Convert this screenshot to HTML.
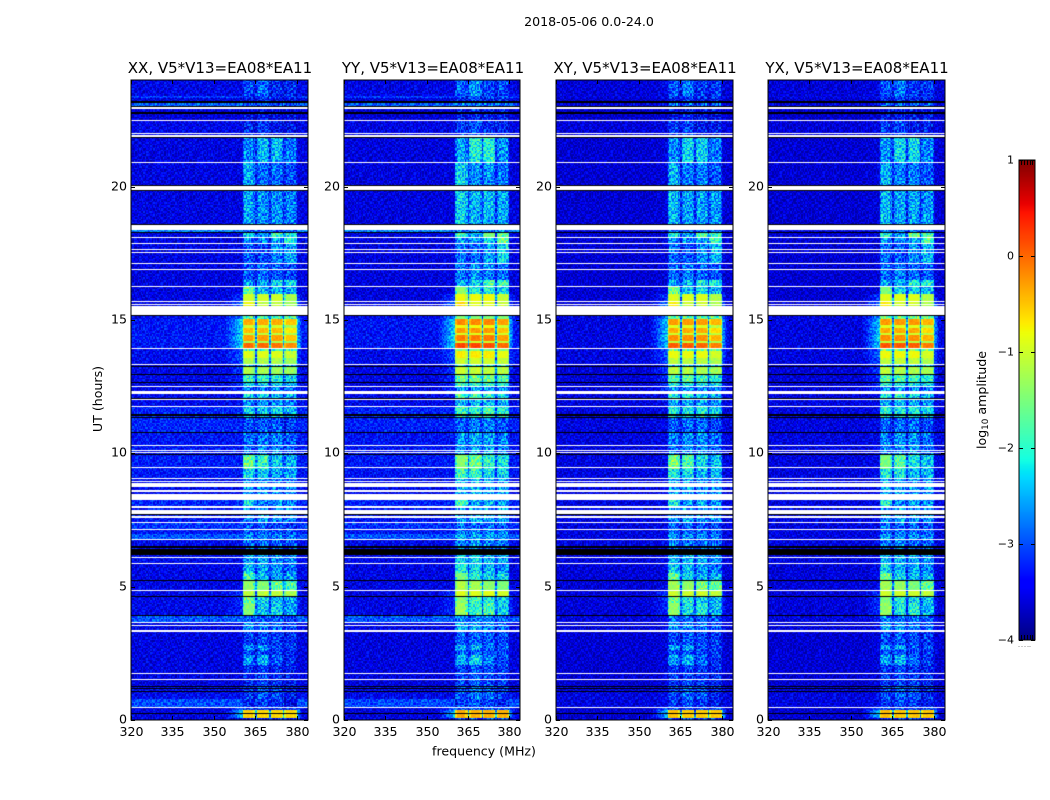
<!DOCTYPE html>
<html>
<head>
<meta charset="utf-8">
<title>2018-05-06 0.0-24.0</title>
<style>
html,body{margin:0;padding:0;background:#fff;}
#figure{position:relative;width:1050px;height:800px;overflow:hidden;background:#fff;}
canvas{position:absolute;display:block;}
svg{position:absolute;left:0;top:0;}
text{font-family:"DejaVu Sans","Liberation Sans",sans-serif;fill:#000;}
</style>
</head>
<body>
<div id="figure">
<canvas id="heat0" width="177" height="640" style="left:131px;top:80px"></canvas>
<canvas id="heat1" width="176" height="640" style="left:344px;top:80px"></canvas>
<canvas id="heat2" width="177" height="640" style="left:556px;top:80px"></canvas>
<canvas id="heat3" width="177" height="640" style="left:768px;top:80px"></canvas>
<canvas id="cbar" width="16" height="480" style="left:1019px;top:160px"></canvas>
<svg id="overlay" width="1050" height="800">
<text x="589" y="26" text-anchor="middle" font-size="12.6">2018-05-06 0.0-24.0</text>
<text x="220" y="73" text-anchor="middle" font-size="15">XX, V5*V13=EA08*EA11</text>
<text x="433" y="73" text-anchor="middle" font-size="15">YY, V5*V13=EA08*EA11</text>
<text x="645" y="73" text-anchor="middle" font-size="15">XY, V5*V13=EA08*EA11</text>
<text x="857" y="73" text-anchor="middle" font-size="15">YX, V5*V13=EA08*EA11</text>
<text x="484" y="755.5" text-anchor="middle" font-size="12.6">frequency (MHz)</text>
<text transform="translate(102,399) rotate(-90)" text-anchor="middle" font-size="12.6">UT (hours)</text>
<text transform="translate(986,400) rotate(-90)" text-anchor="middle" font-size="12.6">log<tspan font-size="8.8" dy="2">10</tspan><tspan dy="-2"> amplitude</tspan></text>
</svg>
</div>
<script>
/* axis data */
const panelNames = ['xx','yy','xy','yx'];
const xTicks = [320,335,350,365,380];
const yTicks = [0,5,10,15,20];
const colorbarTicks = [1,0,-1,-2,-3,-4];
const colorbarTickLabels = ['1','0','\u22121','\u22122','\u22123','\u22124'];
const colorbarMinorX = [0.12,0.3,0.48,0.66,0.84];

/* time segments, in slots of 2.25 minutes counted up from 0 UT (top edge of each segment) */
const segmentTops = [640,624,622,617,614,600,582,557,529,490,488,483,477,456,440,433,426,419,404,401,395,392,387,385,379,377,371,369,362,355,353,345,337,333,326,320,313,302,287,265,251,241,220,212,197,190,186,180,165,156,147,139,129,123,117,105,97,88,75,70,65,55,33,21,12,10,2];
/* log10 amplitude outside the observing band */
const offLevels = [-3.52,-3.12,-3.57,-2.92,-3.62,-3.52,-3.57,-3.57,-3.57,-2.77,-3.57,-3.57,-3.57,-3.57,-3.57,-3.57,-3.57,-3.57,-3.47,-3.37,-3.37,-3.37,-3.37,-3.37,-3.37,-3.37,-3.47,-3.47,-3.47,-3.57,-3.52,-3.52,-3.52,-3.52,-3.47,-3.47,-3.27,-3.27,-3.37,-3.32,-3.37,-3.47,-3.27,-3.37,-3.17,-3.37,-2.97,-3.47,-3.47,-3.52,-3.52,-3.52,-3.52,-3.52,-3.52,-2.97,-3.52,-3.57,-3.57,-3.57,-3.57,-3.57,-3.47,-3.02,-3.62,-3.57,-3.57];
/* log10 amplitude of the skirt beside the band */
const sideLevels = [-3.52,-3.12,-3.57,-2.92,-3.62,-3.52,-3.57,-3.57,-3.57,-2.77,-3.57,-3.57,-3.57,-3.57,-3.57,-3.57,-3.1,-2.8,-2.7,-2.2,-2.4,-2.2,-2.5,-2.1,-2.5,-2.2,-3,-2.9,-3,-3.2,-3.1,-3.2,-3.2,-3.2,-3.47,-3.47,-3.27,-3.27,-3.37,-3.32,-3.37,-3.47,-3.27,-3.37,-3.17,-3.37,-2.97,-3.47,-3.47,-3.52,-3.52,-3.52,-3.1,-3.2,-3.2,-3,-3.52,-3.57,-3.57,-3.57,-3.57,-3.57,-3.47,-3.05,-2.9,-2.4,-3.57];
/* log10 amplitude in each of the four sub-bands */
const sub1Levels = [-2.6,-2.8,-3,-2.5,-3.1,-2.8,-2.3,-2.1,-2.1,-2.5,-1.9,-2.3,-2.5,-2.5,-2.2,-1.6,-1,-0.8,-1.7,-0.35,-1,-0.45,-1.1,-0.3,-1.2,0,-1.7,-0.9,-1.2,-2,-1.2,-1.75,-1.9,-2.3,-1.9,-2.2,-1.9,-2.6,-2.4,-1.6,-1.9,-2.2,-1.9,-2.3,-2.5,-2.5,-2.2,-2.4,-2.1,-2,-1.7,-1.35,-1.1,-1.6,-1.45,-2.4,-2.2,-2.7,-2.2,-2.6,-2.2,-2.8,-2.7,-2.8,-2.7,-0.55,-2.8];
const sub2Levels = [-2.4,-2.7,-2.8,-2.5,-3,-2.7,-2,-2.4,-2.2,-2.5,-2.2,-2.3,-2.6,-2.4,-2.1,-2,-1,-1.1,-1.7,-0.35,-1,-0.45,-1.1,-0.3,-1.2,0,-1.7,-0.9,-1.2,-2,-1.25,-1.75,-1.95,-2.3,-1.9,-2.2,-1.95,-2.5,-2.3,-1.75,-1.95,-2.2,-2.3,-2.2,-2.6,-2.5,-2.3,-2.4,-2.1,-2.1,-2,-1.45,-1.1,-1.9,-1.95,-2.5,-2.3,-2.6,-2.2,-2.6,-2.1,-2.7,-2.5,-2.7,-2.7,-0.6,-2.8];
const sub3Levels = [-2.8,-2.8,-3,-2.6,-3.1,-3,-2,-2.4,-2.2,-2.5,-1.7,-2.1,-2.3,-2.5,-1.9,-2,-1,-1.1,-1.7,-0.35,-1,-0.45,-1.1,-0.3,-1.2,-0.05,-1.7,-0.9,-1.2,-2,-1.3,-1.8,-1.95,-2.3,-2,-2.2,-1.9,-2.5,-2.3,-1.95,-2.1,-2.3,-2.2,-2.3,-2.6,-2.5,-2.3,-2.5,-2.2,-2.2,-2.1,-1.6,-1.1,-2,-1.9,-2.5,-2.4,-2.7,-2.6,-2.7,-2.5,-2.8,-2.6,-2.8,-2.7,-0.6,-2.8];
const sub4Levels = [-2.8,-2.8,-3,-2.6,-3.1,-3,-2.4,-2.6,-2.3,-2.5,-1.8,-1.8,-2.1,-2.6,-1.9,-2.1,-1.25,-1.3,-1.7,-0.5,-1.2,-0.7,-1.2,-0.5,-1.3,-0.2,-1.7,-1.05,-1.3,-2,-1.35,-1.9,-2,-2.4,-2.1,-2.3,-2,-2.7,-2.5,-2.05,-2.1,-2.3,-2.3,-2.3,-2.7,-2.5,-2.4,-2.5,-2.3,-2.4,-2.1,-1.7,-1.2,-2.1,-2.1,-2.6,-2.6,-2.8,-2.7,-2.8,-2.8,-2.9,-2.9,-3,-2.7,-0.6,-2.8];

/* flagged time ranges, as [first slot, end slot) */
const whiteFlagStarts = [611,599,586,583,557,530,490,482,476,470,467,456,450,433,418,415,405,371,355,333,326,320,313,274,269,267,252,241,238,233,228,220,212,206,202,197,190,180,162,156,129,97,94,88,46,40,12];
const whiteFlagEnds   = [613,600,587,585,558,534,495,483,477,471,468,457,451,434,419,416,414,372,356,334,329,321,314,275,270,268,253,242,239,237,230,226,214,210,204,198,191,181,163,157,130,98,95,90,47,41,13];
const blackFlagStarts = [617,613,606,582,534,529,495,487,404,353,345,337,321,304,302,287,265,205,172,165,139,123,104,33,31,28,6];
const blackFlagEnds   = [619,614,608,583,535,530,496,488,405,354,346,338,322,306,303,288,266,206,174,171,140,124,105,34,32,29,7];

/* per-polarisation level adjustments */
const panelSubShift = [0,0.2,0.08,0.1];
const panelOffShift = [0.03,0,-0.08,-0.08];
const crossOffCeiling = [0,0,-3.47,-3.47];

/* sub-band edges in MHz */
const subStarts = [360.4,365.4,370.5,375.5];
const subEnds = [364.8,369.9,375,380];

/* speckle tile: per-cell deviation digits (0 low, 9 high), estimated from the noise texture */
const speckleRows = [
"4726153894061738249516037284915",
"8135042697381526074938162504739",
"2960748135926407381652940718263",
"5381926470351892604713582946017",
"0647382915740263981542607391856",
"7294051638429715360827493016584",
"3518697240185362947051836274902",
"9072435861620749153682047951368",
"1846209753938164072596318405726",
"6359814027254908637412985063147",
"4081762395713526094863701249580",
"2795360148649073815204936587412",
"8316947205182649730751248360695",
"5042738916305817462398057164923",
"9628104573476295081636914702358",
"1473926085943061527840362985176",
"7850362419608743196257189034628",
"3196548702275918364061743829560",
"6024871395041632879514095276813",
"4758209163897504216387620941375",
"0931675482516289047923158607429",
"8247093516734061592860471395286",
"2563814907180793625149306728945",
"7106429358462815093776589210634",
"3894750261937246158004132867596",
"5217368094015978346528947613082",
"9460182735682403719165230894751",
"1738596420349150867342076158923",
"6082947153724696310987415362708"
];

/* scales */
const panelLefts = [131,344,556,768];
const panelWidths = [177,176,177,177];
const plotTop = 80, plotBottom = 720;
const xMin = 320, xMax = 384, hoursMax = 24, slotCount = 640, cmin = -4, cmax = 1;
function xScale(mhz, p){ return panelWidths[p] * (mhz - xMin) / (xMax - xMin); }
function yScale(hours){ return plotBottom - (plotBottom - plotTop) * hours / hoursMax; }
function slotHours(slot){ return slot * hoursMax / slotCount; }
function cbarY(v){ return 160 + 480 * (cmax - v) / (cmax - cmin); }

function clamp01(v){ return v < 0 ? 0 : v > 1 ? 1 : v; }
function jet(v){
  const t = clamp01((v - cmin) / (cmax - cmin));
  let r, g, b;
  if (t < 0.35) r = 0; else if (t < 0.66) r = (t - 0.35) / 0.31; else if (t < 0.89) r = 1; else r = 1 - 0.5 * (t - 0.89) / 0.11;
  if (t < 0.125) g = 0; else if (t < 0.375) g = (t - 0.125) / 0.25; else if (t < 0.64) g = 1; else if (t < 0.91) g = 1 - (t - 0.64) / 0.27; else g = 0;
  if (t < 0.11) b = 0.5 + 0.5 * t / 0.11; else if (t < 0.34) b = 1; else if (t < 0.65) b = 1 - (t - 0.34) / 0.31; else b = 0;
  return 'rgb(' + Math.round(r * 255) + ',' + Math.round(g * 255) + ',' + Math.round(b * 255) + ')';
}

function segmentFor(slot){
  let idx = 0;
  for (let i = 0; i < segmentTops.length; i++) { if (segmentTops[i] > slot) idx = i; else break; }
  return idx;
}
function flagFor(slot){
  for (let i = 0; i < blackFlagStarts.length; i++) if (slot >= blackFlagStarts[i] && slot < blackFlagEnds[i]) return 'k';
  for (let i = 0; i < whiteFlagStarts.length; i++) if (slot >= whiteFlagStarts[i] && slot < whiteFlagEnds[i]) return 'w';
  return '';
}
/* weak in-band emission reads dimmer than its first colour estimate */
function toneCurve(s){
  return s < -1.6 ? s - Math.min(0.45, (-1.6 - s) * 1.2) : s;
}
function cellLevel(mhz, seg, p){
  let off = offLevels[seg], side = sideLevels[seg];
  const ceil = crossOffCeiling[p];
  if (ceil && off > ceil) { const d = off - ceil; off = ceil; side = Math.max(side - d, off); }
  off += panelOffShift[p];
  const subs = [sub1Levels[seg], sub2Levels[seg], sub3Levels[seg], sub4Levels[seg]];
  for (let i = 0; i < 4; i++) {
    if (mhz >= subStarts[i] && mhz < subEnds[i]) {
      const s = toneCurve(subs[i] + panelSubShift[p]);
      const rim = Math.min(mhz - subStarts[i], subEnds[i] - mhz);
      return rim < 0.6 ? s - 0.28 : s;
    }
    if (i < 3 && mhz >= subEnds[i] && mhz < subStarts[i + 1]) {
      const s = toneCurve(Math.max(subs[i], subs[i + 1]) + panelSubShift[p]);
      return off + 0.3 * (s - off);
    }
  }
  if (mhz < subStarts[0]) {
    if (mhz > 354 && side > off) { const r = (mhz - 354) / 6.4; return off + (side - off) * r; }
    return off;
  }
  if (mhz < 382 && side > off) return off + (side - off) * (382 - mhz) / 2.1;
  return off;
}
function speckle(rowCell, col){
  const nr = speckleRows.length, row = speckleRows[rowCell % nr];
  const shift = Math.floor(rowCell / nr) * 11;
  return row.charCodeAt((col + shift) % row.length) - 48 - 4.5;
}

/* draw each heatmap from the arrays */
const colStep = 0.5;
for (let p = 0; p < 4; p++) {
  const ctx = document.getElementById('heat' + p).getContext('2d');
  ctx.fillStyle = '#fff';
  ctx.fillRect(0, 0, panelWidths[p], 640);
  const nCols = Math.ceil((xMax - xMin) / colStep);
  for (let slot = 0; slot < slotCount; slot++) {
    const yTop = Math.round(yScale(slotHours(slot + 1))) - plotTop;
    const yBot = Math.round(yScale(slotHours(slot))) - plotTop;
    const flag = flagFor(slot);
    if (flag) {
      ctx.fillStyle = flag === 'k' ? '#000' : '#fff';
      ctx.fillRect(0, yTop, panelWidths[p], yBot - yTop);
      continue;
    }
    const seg = segmentFor(slot);
    const rowCell = Math.floor((slot + p * 21) / 1.5);
    for (let c = 0; c < nCols; c++) {
      const mhz = xMin + c * colStep;
      const x0 = Math.round(xScale(mhz, p)), x1 = Math.round(xScale(mhz + colStep, p));
      const level = cellLevel(mhz + colStep / 2, seg, p);
      const inBand = mhz >= subStarts[0] && mhz < subEnds[3];
      const amp = level < -1.5 ? (inBand ? 0.13 : 0.085) : level < -1 ? 0.04 : 0.02;
      ctx.fillStyle = jet(Math.max(level + speckle(rowCell, c) * amp, -3.85));
      ctx.fillRect(x0, yTop, x1 - x0, yBot - yTop);
    }
  }
}

/* colorbar gradient */
(function(){
  const ctx = document.getElementById('cbar').getContext('2d');
  for (let i = 0; i < 480; i++) {
    ctx.fillStyle = jet(cmax - (i + 0.5) / 480 * (cmax - cmin));
    ctx.fillRect(0, i, 16, 1);
  }
})();

/* axes */
const svg = document.getElementById('overlay');
const NS = 'http://www.w3.org/2000/svg';
function line(parent, x1, y1, x2, y2){
  const l = document.createElementNS(NS, 'line');
  l.setAttribute('x1', x1); l.setAttribute('y1', y1);
  l.setAttribute('x2', x2); l.setAttribute('y2', y2);
  l.setAttribute('stroke', '#000'); l.setAttribute('stroke-width', '1');
  parent.appendChild(l);
  return l;
}
function label(parent, x, y, str, anchor){
  const t = document.createElementNS(NS, 'text');
  t.setAttribute('x', x); t.setAttribute('y', y);
  t.setAttribute('font-size', '12.6');
  t.setAttribute('text-anchor', anchor);
  t.textContent = str;
  parent.appendChild(t);
  return t;
}
for (let p = 0; p < 4; p++) {
  const left = panelLefts[p], w = panelWidths[p];
  const g = document.createElementNS(NS, 'g');
  
  
  svg.appendChild(g);
  xTicks.forEach(function(v){
    const x = left + Math.round(xScale(v, p)) + 0.5;
    const a = line(g, x, plotBottom, x, plotBottom - 4);
    
    
    const b = line(g, x, plotTop, x, plotTop + 4);
    
    
    const t = label(g, x, 736, String(v), 'middle');
    
    
  });
  yTicks.forEach(function(v){
    const y = Math.round(yScale(v)) + 0.5;
    const a = line(g, left, y, left + 4, y);
    
    
    const b = line(g, left + w, y, left + w - 4, y);
    
    
    const t = label(g, left - 4, y + 3, String(v), 'end');
    
    
  });
  const frame = document.createElementNS(NS, 'rect');
  frame.setAttribute('x', left);
  frame.setAttribute('y', plotTop);
  frame.setAttribute('width', w);
  frame.setAttribute('height', plotBottom - plotTop);
  frame.setAttribute('fill', 'none');
  frame.setAttribute('stroke', '#000');
  frame.setAttribute('stroke-width', '1');
  
  
  g.appendChild(frame);
}

/* colorbar axis */
(function(){
  const g = document.createElementNS(NS, 'g');
  
  
  svg.appendChild(g);
  const cx0 = 1019, cw = 16;
  colorbarTicks.forEach(function(v, i){
    const y = Math.round(cbarY(v)) + 0.5;
    const a = line(g, cx0, y, cx0 + 4, y);
    
    
    const b = line(g, cx0 + cw, y, cx0 + cw - 4, y);
    
    
    const t = label(g, cx0 - 5, y + 3, colorbarTickLabels[i], 'end');
    t.setAttribute('font-size', '11');
    
    
  });
  colorbarMinorX.forEach(function(f){
    const x = Math.round(cx0 + f * cw) + 0.5;
    const a = line(g, x, 160, x, 165);
    
    
    const b = line(g, x, 640, x, 635);
    
    
    const d = document.createElementNS(NS, 'rect');
    d.setAttribute('x', x - 3);
    d.setAttribute('y', 646);
    d.setAttribute('width', 1);
    d.setAttribute('height', 1);
    d.setAttribute('fill', '#999');
    
    
    g.appendChild(d);
  });
  const frame = document.createElementNS(NS, 'rect');
  frame.setAttribute('x', cx0);
  frame.setAttribute('y', 160);
  frame.setAttribute('width', cw);
  frame.setAttribute('height', 480);
  frame.setAttribute('fill', 'none');
  frame.setAttribute('stroke', '#000');
  frame.setAttribute('stroke-width', '1');
  
  
  g.appendChild(frame);
})();
</script>
</body>
</html>
